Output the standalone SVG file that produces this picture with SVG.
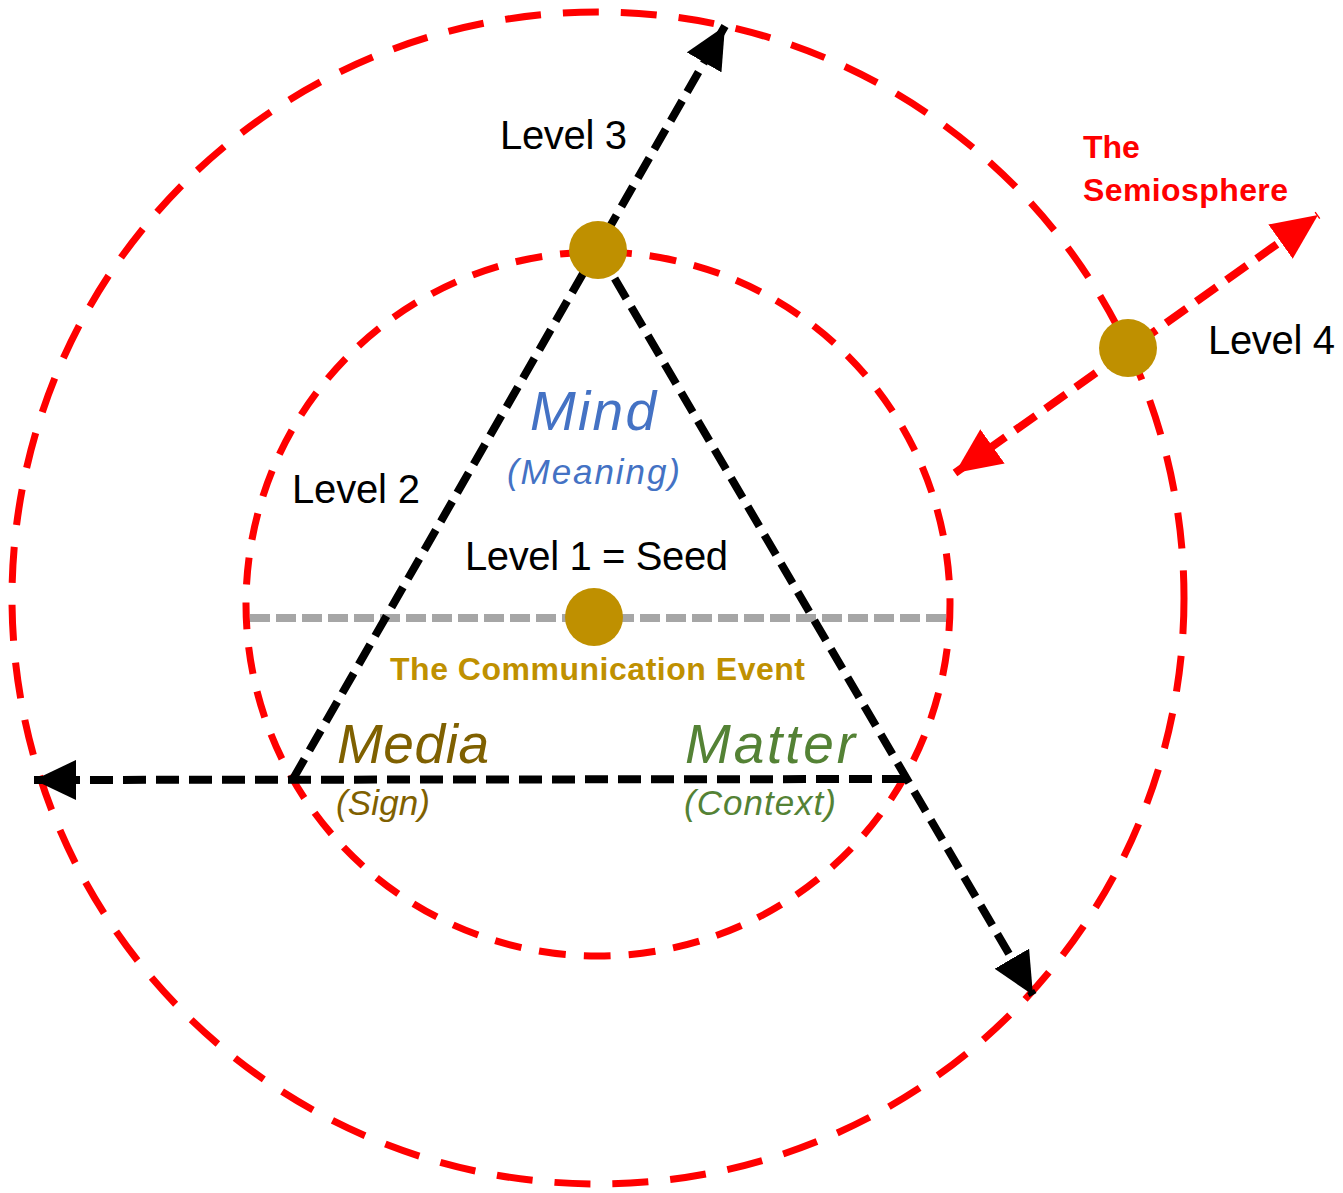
<svg xmlns="http://www.w3.org/2000/svg" width="1343" height="1193" viewBox="0 0 1343 1193">
  <style>
    .ring { fill: none; stroke: #ff0000; stroke-width: 7; }
    .axis { fill: none; stroke: #000000; stroke-width: 8; stroke-dasharray: 23 10; }
    .event { fill: none; stroke: #a6a6a6; stroke-width: 8; stroke-dasharray: 20 6; }
    .reach { fill: none; stroke: #ff0000; stroke-width: 8; stroke-dasharray: 25 12; }
    .dot { fill: #bf9000; }
    .lbl { font-family: "Liberation Sans", Arial, sans-serif; font-size: 40px; fill: #000000; }
    .semi { font-family: "Liberation Sans", Arial, sans-serif; font-size: 32px; font-weight: bold; fill: #ff0000; }
    .big { font-family: "Liberation Sans", Arial, sans-serif; font-style: italic; font-size: 55px; }
    .sub { font-family: "Liberation Sans", Arial, sans-serif; font-style: italic; font-size: 35px; }
  </style>
  <defs>
    <marker id="headBlack" markerUnits="userSpaceOnUse" viewBox="0 0 42 40" markerWidth="42" markerHeight="40" refX="42" refY="20" orient="auto">
      <path d="M0,0 L42,20 L0,40 Z" fill="#000000"/>
    </marker>
    <marker id="headRed" markerUnits="userSpaceOnUse" viewBox="0 0 46 42" markerWidth="46" markerHeight="42" refX="46" refY="21" orient="auto-start-reverse">
      <path d="M0,0 L46,21 L0,42 Z" fill="#ff0000"/>
    </marker>
  </defs>

  <!-- semiosphere rings -->
  <g id="outer-ring"><circle class="ring" cx="598" cy="598" r="586" stroke-dasharray="36 22"/></g>
  <g id="inner-ring"><circle class="ring" cx="598" cy="604" r="352" stroke-dasharray="27 18"/></g>

  <!-- connectors -->
  <g id="connectors">
    <line id="event-line" class="event" x1="250" y1="618" x2="952" y2="618"/>
    <line id="mind-axis" class="axis" x1="293" y1="779" x2="725" y2="26" marker-end="url(#headBlack)"/>
    <line id="matter-axis" class="axis" x1="598" y1="250" x2="1033" y2="995" marker-end="url(#headBlack)"/>
    <line id="media-axis" class="axis" x1="905" y1="779" x2="34" y2="780" marker-end="url(#headBlack)"/>
    <line id="level4-axis" class="reach" x1="955" y1="473" x2="1318" y2="215" marker-start="url(#headRed)" marker-end="url(#headRed)"/>
  </g>

  <!-- nodes -->
  <g id="node-level3"><circle class="dot" cx="598" cy="250" r="29"/></g>
  <g id="node-seed"><circle class="dot" cx="594" cy="617" r="29"/></g>
  <g id="node-level4"><circle class="dot" cx="1128" cy="348" r="29"/></g>

  <!-- labels -->
  <g id="labels">
    <text class="lbl" x="500" y="149" textLength="127">Level 3</text>
    <text class="semi" x="1083" y="158">The</text>
    <text class="semi" x="1083" y="201" textLength="205">Semiosphere</text>
    <text class="lbl" x="1208" y="354" textLength="127">Level 4</text>
    <text class="big" x="530" y="430" fill="#4472c4" textLength="126">Mind</text>
    <text class="sub" x="507" y="484" fill="#4472c4" textLength="173">(Meaning)</text>
    <text class="lbl" x="292" y="503" textLength="128">Level 2</text>
    <text class="lbl" x="465" y="570" textLength="263">Level 1 = Seed</text>
    <text x="390" y="680" font-family="Liberation Sans, Arial, sans-serif" font-size="32" font-weight="bold" fill="#bf9000" textLength="415">The Communication Event</text>
    <text class="big" x="337" y="763" fill="#7f6000" textLength="152">Media</text>
    <text class="sub" x="336" y="815" fill="#7f6000" textLength="94">(Sign)</text>
    <text class="big" x="685" y="763" fill="#548235" textLength="170">Matter</text>
    <text class="sub" x="684" y="815" fill="#548235" textLength="152">(Context)</text>
  </g>
</svg>
